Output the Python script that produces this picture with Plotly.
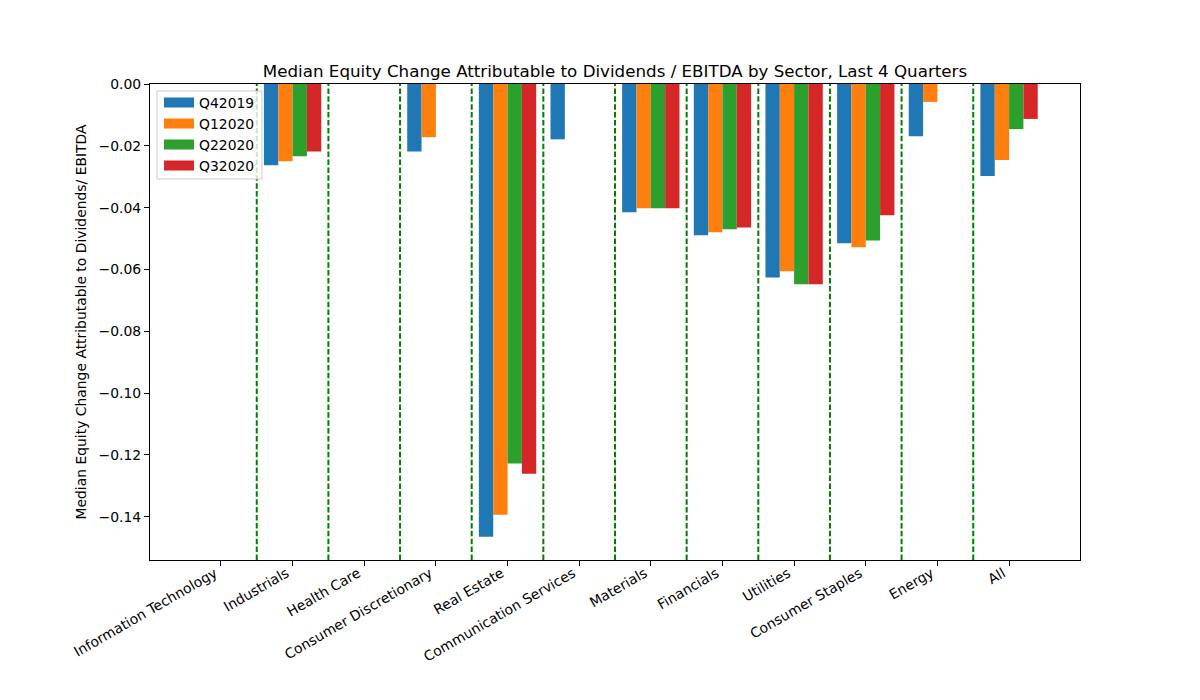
import plotly.graph_objects as go

sectors = ["Information Technology", "Industrials", "Health Care", "Consumer Discretionary",
           "Real Estate", "Communication Services", "Materials", "Financials", "Utilities",
           "Consumer Staples", "Energy", "All"]
quarters = ["Q42019", "Q12020", "Q22020", "Q32020"]
q42019 = [None, -0.0263, None, -0.0218, -0.1465, -0.0179, -0.0415, -0.0489, -0.0626, -0.0515, -0.0169, -0.0298]
q12020 = [None, -0.0250, None, -0.0172, -0.1394, None, -0.0402, -0.0480, -0.0606, -0.0528, -0.0058, -0.0246]
q22020 = [None, -0.0234, None, None, -0.1228, None, -0.0402, -0.0470, -0.0648, -0.0506, None, -0.0146]
q32020 = [None, -0.0218, None, None, -0.1261, None, -0.0402, -0.0464, -0.0648, -0.0425, None, -0.0113]
colors = ["#1f77b4", "#ff7f0e", "#2ca02c", "#d62728"]
yticks = [0.0, -0.02, -0.04, -0.06, -0.08, -0.10, -0.12, -0.14]

series = [q42019, q12020, q22020, q32020]
xpos = list(range(len(sectors)))

fig = go.Figure()
for name, vals, col in zip(quarters, series, colors):
    fig.add_trace(go.Bar(x=xpos, y=vals, name=name, showlegend=False,
                         marker=dict(color=col, line=dict(width=0))))
# legend entries drawn as wide patches (like matplotlib)
for name, col in zip(quarters, colors):
    fig.add_trace(go.Scatter(x=[None], y=[None], mode="lines", name=name,
                             line=dict(color=col, width=10)))

for i in range(len(sectors) - 1):
    fig.add_shape(type="line", xref="x", yref="paper", x0=i + 0.5, x1=i + 0.5, y0=0, y1=1,
                  line=dict(color="green", width=2, dash="5.5px,2.4px"), layer="above")

# legend frame (semi-transparent, like matplotlib)
fig.add_shape(type="rect", xref="paper", yref="paper", x0=0.0075, x1=0.1204, y0=0.8004, y1=0.9853,
              line=dict(color="#cccccc", width=1), fillcolor="rgba(255,255,255,0.8)", layer="above")

font = "DejaVu Sans, sans-serif"
W, H = 1200, 700
L, T, PW, PH = 142, 76, 930, 476
fig.update_layout(
    width=W, height=H,
    paper_bgcolor="white", plot_bgcolor="white",
    margin=dict(l=L, r=W - L - PW, t=T, b=H - T - PH, autoexpand=False),
    barmode="group", bargap=0.2, bargroupgap=0,
    font=dict(family=font, size=13.9, color="black"),
    title=dict(text="Median Equity Change Attributable to Dividends / EBITDA by Sector, Last 4 Quarters",
               x=(L + PW / 2) / W, xanchor="center", y=1 - (T - 13) / H, yanchor="middle",
               font=dict(size=16.7, family=font, color="black")),
    legend=dict(x=0.0097, y=0.994, xanchor="left", yanchor="top", bgcolor="rgba(0,0,0,0)",
                borderwidth=0, font=dict(size=13.9), tracegroupgap=0, itemwidth=30),
    showlegend=True,
)
fig.update_xaxes(range=[-0.99, 11.99], tickmode="array", tickvals=xpos, ticktext=sectors,
                 tickangle=-30, showgrid=False, zeroline=False, showline=True, linecolor="black",
                 linewidth=1.1, mirror=True, ticks="outside", ticklen=5, tickwidth=1.1, tickcolor="black",
                 tickfont=dict(size=13.9), ticklabelshift=-6, ticklabelstandoff=-6)
fig.update_yaxes(range=[-0.154, 0.0], tickmode="array", tickvals=yticks,
                 ticktext=["0.00" if v == 0 else "\u2212%.2f" % abs(v) for v in yticks],
                 showgrid=False, zeroline=False, showline=True, linecolor="black", linewidth=1.1,
                 mirror=True, ticks="outside", ticklen=5, tickwidth=1.1, tickcolor="black",
                 tickfont=dict(size=13.9),
                 title=dict(text="Median Equity Change Attributable to Dividends/ EBITDA", standoff=8,
                            font=dict(size=13.9)))

fig.write_html("out.html")
